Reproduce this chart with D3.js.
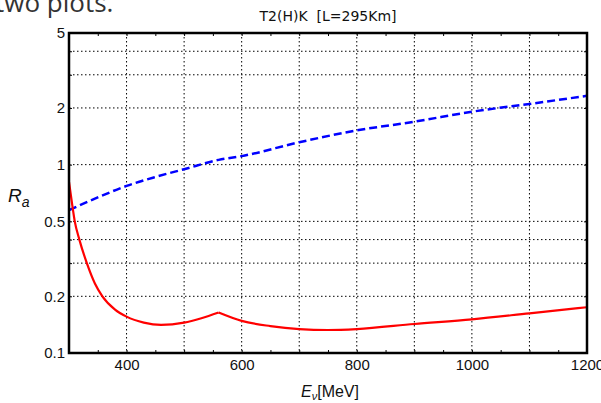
<!DOCTYPE html>
<html>
<head>
<meta charset="utf-8">
<script src="https://cdn.jsdelivr.net/npm/d3@7"></script>
<style>
  body { margin: 0; background: #fff; }
  svg { display: block; }
  .tick text { font-family: "Liberation Sans", Arial, sans-serif; font-size: 15px; fill: #111; }
</style>
</head>
<body>
<div id="chart"></div>
<script>
// red curve (solid), two pieces meeting at the kink near 560 MeV
var redE1 = [300, 305, 310, 318, 331, 345, 358, 380, 400, 430, 460, 500, 530, 560];
var redR1 = [0.81, 0.63, 0.50, 0.40, 0.30, 0.234, 0.20, 0.170, 0.156, 0.145, 0.141, 0.145, 0.153, 0.164];
var redE2 = [560, 600, 650, 700, 750, 800, 900, 1000, 1100, 1200];
var redR2 = [0.164, 0.148, 0.139, 0.134, 0.1325, 0.134, 0.1426, 0.151, 0.1625, 0.175];

// blue curve (dashed)
var blueE1 = [300, 350, 400, 450, 500, 560];
var blueR1 = [0.574, 0.67, 0.771, 0.86, 0.946, 1.06];
var blueE2 = [560, 600, 700, 800, 900, 1000, 1100, 1200];
var blueR2 = [1.06, 1.11, 1.315, 1.52, 1.69, 1.91, 2.10, 2.32];

var xTickLabels = [400, 600, 800, 1000, 1200];
var xGridValues = [400, 500, 600, 700, 800, 900, 1000, 1100];
var xMinorTicks = [350, 400, 450, 500, 550, 600, 650, 700, 750, 800, 850, 900, 950, 1000, 1050, 1100, 1150];
var yTickLabels = [0.1, 0.2, 0.5, 1, 2, 5];
var yGridValues = [0.2, 0.3, 0.4, 0.5, 1, 2, 3, 4];

var title = "T2(H)K  [L=295Km]";

function plot() {
  var width = 601, height = 403;
  var margin = {top: 33, right: 14, bottom: 50, left: 69};
  var w = width - margin.left - margin.right;
  var h = height - margin.top - margin.bottom;

  var svg = d3.select("#chart").append("svg")
    .attr("width", width)
    .attr("height", height);

  svg.append("rect").attr("width", width).attr("height", height).attr("fill", "#fff");

  // leftover text of the page the chart was cut from
  svg.append("text")
    .attr("x", -5).attr("y", 12)
    .style("font-family", "'Open Sans', sans-serif")
    .style("font-size", "26px")
    .style("fill", "#333")
    .text("two plots.");

  var g = svg.append("g")
    .attr("transform", "translate(" + margin.left + "," + margin.top + ")");

  var x = d3.scaleLinear().domain([300, 1200]).range([0, w]);
  var y = d3.scaleLog().domain([0.1, 5]).range([h, 0]);

  // grid
  g.append("g").selectAll("line")
    .data(xGridValues).enter().append("line")
    .attr("x1", function(d) { return x(d); })
    .attr("x2", function(d) { return x(d); })
    .attr("y1", 0).attr("y2", h)
    .attr("stroke", "#000").attr("stroke-width", 1)
    .attr("stroke-dasharray", "1.5,2.5");

  g.append("g").selectAll("line")
    .data(yGridValues).enter().append("line")
    .attr("x1", 0).attr("x2", w)
    .attr("y1", function(d) { return y(d); })
    .attr("y2", function(d) { return y(d); })
    .attr("stroke", "#000").attr("stroke-width", 1)
    .attr("stroke-dasharray", "1.5,2.5");

  // curves
  var line = d3.line()
    .x(function(d) { return x(d[0]); })
    .y(function(d) { return y(d[1]); })
    .curve(d3.curveMonotoneX);

  function pairs(a, b) { return a.map(function(v, i) { return [v, b[i]]; }); }

  g.append("clipPath").attr("id", "clip")
    .append("rect").attr("width", w).attr("height", h);

  var curves = g.append("g").attr("clip-path", "url(#clip)");

  curves.append("path")
    .attr("d", line(pairs(blueE1, blueR1).concat(pairs(blueE2, blueR2).slice(1))))
    .attr("fill", "none").attr("stroke", "#0000ff")
    .attr("stroke-width", 2.5)
    .attr("stroke-dasharray", "8,4");

  [pairs(redE1, redR1), pairs(redE2, redR2)].forEach(function(seg) {
    curves.append("path")
      .attr("d", line(seg))
      .attr("fill", "none").attr("stroke", "#ff0000")
      .attr("stroke-width", 2.2)
      .attr("stroke-linejoin", "round");
  });

  // small inward ticks
  g.append("g").attr("transform", "translate(0," + h + ")")
    .call(d3.axisBottom(x).tickValues(xMinorTicks).tickSizeInner(-3).tickSizeOuter(0).tickFormat(""))
    .call(function(a) { a.select(".domain").remove(); });
  g.append("g")
    .call(d3.axisTop(x).tickValues(xMinorTicks).tickSizeInner(-3).tickSizeOuter(0).tickFormat(""))
    .call(function(a) { a.select(".domain").remove(); });
  g.append("g")
    .call(d3.axisLeft(y).tickValues(yGridValues).tickSizeInner(-3).tickSizeOuter(0).tickFormat(""))
    .call(function(a) { a.select(".domain").remove(); });
  g.append("g").attr("transform", "translate(" + w + ",0)")
    .call(d3.axisRight(y).tickValues(yGridValues).tickSizeInner(-3).tickSizeOuter(0).tickFormat(""))
    .call(function(a) { a.select(".domain").remove(); });

  // tick labels
  g.append("g").attr("transform", "translate(0," + h + ")")
    .call(d3.axisBottom(x).tickValues(xTickLabels).tickSize(0).tickPadding(6).tickFormat(d3.format("d")))
    .call(function(a) { a.select(".domain").remove(); });
  g.append("g")
    .call(d3.axisLeft(y).tickValues(yTickLabels).tickSize(0).tickPadding(4)
      .tickFormat(function(d) { return String(d); }))
    .call(function(a) { a.select(".domain").remove(); });

  // frame
  g.append("rect")
    .attr("width", w).attr("height", h)
    .attr("fill", "none").attr("stroke", "#000").attr("stroke-width", 2.5);

  // title
  svg.append("text")
    .attr("x", margin.left + w / 2).attr("y", 21)
    .attr("text-anchor", "middle")
    .style("font-family", "'DejaVu Sans', sans-serif")
    .style("font-size", "14px")
    .style("white-space", "pre")
    .style("fill", "#111")
    .text(title);

  // y label
  var yl = svg.append("text")
    .attr("x", 8).attr("y", 202)
    .style("font-family", "'Liberation Sans', Arial, sans-serif")
    .style("font-size", "19px")
    .style("font-style", "italic")
    .style("fill", "#111");
  yl.append("tspan").text("R");
  yl.append("tspan").attr("dy", 5).style("font-size", "14px").text("a");

  // x label
  var xl = svg.append("text")
    .attr("x", margin.left + w / 2 + 2).attr("y", 397)
    .attr("text-anchor", "middle")
    .style("font-family", "'Liberation Sans', Arial, sans-serif")
    .style("font-size", "16px")
    .style("fill", "#111");
  xl.append("tspan").style("font-style", "italic").text("E");
  xl.append("tspan").attr("dy", 3).style("font-style", "italic").style("font-size", "11px").text("ν");
  xl.append("tspan").attr("dy", -3).text("[MeV]");
}

document.addEventListener("DOMContentLoaded", function() {
  plot();
});
</script>
</body>
</html>
